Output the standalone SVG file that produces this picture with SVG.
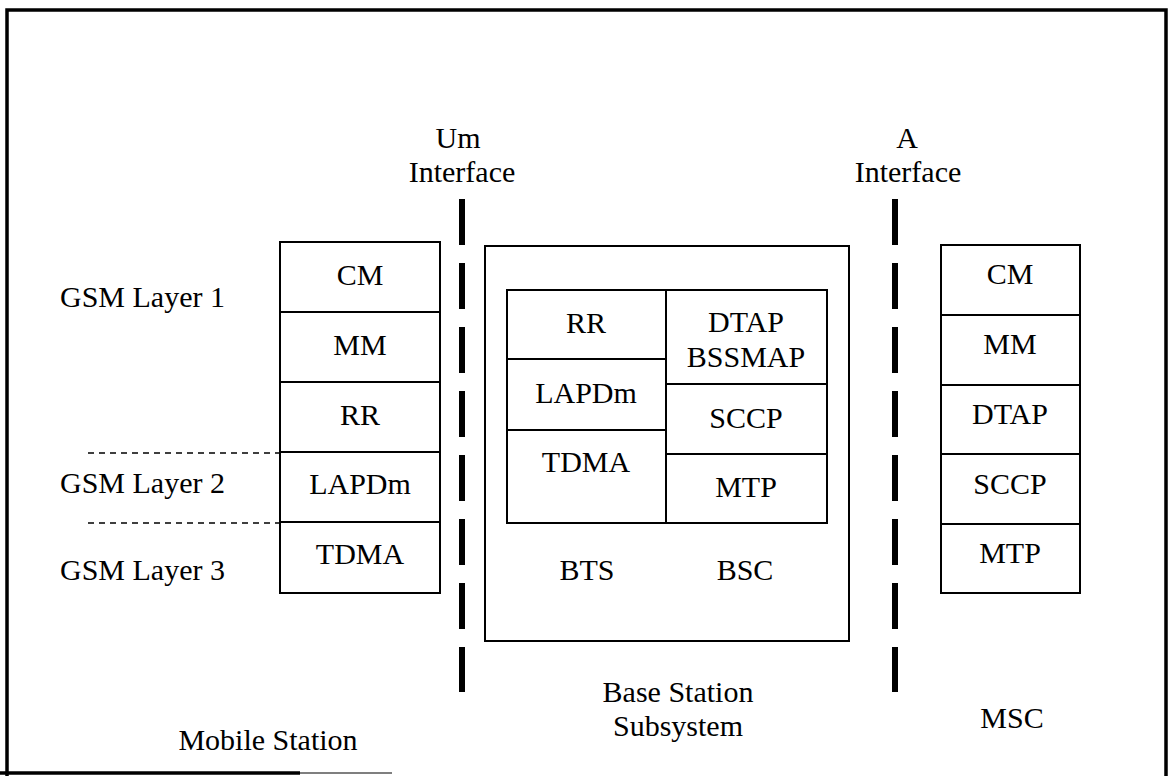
<svg xmlns="http://www.w3.org/2000/svg" width="1168" height="776" viewBox="0 0 1168 776" font-family="'Liberation Serif', 'DejaVu Serif', serif">
<style>
text{font-family:'Liberation Serif','Times New Roman','DejaVu Serif',serif;font-size:30px;fill:#000;text-anchor:middle}
.lbl{text-anchor:start}
.box{fill:none;stroke:#000;stroke-width:2}
.sep{stroke:#000;stroke-width:2}
.iface{stroke:#000;stroke-width:6;stroke-dasharray:46 18}
.layer{stroke:#000;stroke-width:1.5;stroke-dasharray:6 5}
.frame{stroke:#000;stroke-width:3.5;fill:none}
</style>
<rect width="1168" height="776" fill="#fff"/>
<g id="frame">
<path class="frame" d="M7,776 V10 H1166 V776"/>
<path class="frame" d="M0,773 H300"/>
<path d="M300,773 H392" stroke="#555" stroke-width="1.5"/>
</g>
<g id="connectors">
<line class="iface" x1="462" y1="199" x2="462" y2="692"/>
<line class="iface" x1="895" y1="199" x2="895" y2="692"/>
<line class="layer" x1="88" y1="453" x2="280" y2="453"/>
<line class="layer" x1="88" y1="523" x2="280" y2="523"/>
</g>
<g id="um-interface">
<text x="458" y="148">Um</text>
<text x="462" y="182">Interface</text>
</g>
<g id="a-interface">
<text x="907" y="148">A</text>
<text x="908" y="182">Interface</text>
</g>
<g id="layer-labels">
<text class="lbl" x="60" y="307">GSM Layer 1</text>
<text class="lbl" x="60" y="493">GSM Layer 2</text>
<text class="lbl" x="60" y="580">GSM Layer 3</text>
</g>
<g id="mobile-station">
<rect class="box" x="280" y="242" width="160" height="351"/>
<line class="sep" x1="280" y1="312" x2="440" y2="312"/>
<line class="sep" x1="280" y1="382" x2="440" y2="382"/>
<line class="sep" x1="280" y1="452" x2="440" y2="452"/>
<line class="sep" x1="280" y1="522" x2="440" y2="522"/>
<text x="360" y="285">CM</text>
<text x="360" y="355">MM</text>
<text x="360" y="425">RR</text>
<text x="360" y="494">LAPDm</text>
<text x="360" y="564">TDMA</text>
<text x="268" y="750">Mobile Station</text>
</g>
<g id="bss">
<rect class="box" x="485" y="246" width="364" height="395"/>
<rect class="box" x="507" y="290" width="320" height="233"/>
<line class="sep" x1="666" y1="290" x2="666" y2="523"/>
<line class="sep" x1="507" y1="359" x2="666" y2="359"/>
<line class="sep" x1="507" y1="430" x2="666" y2="430"/>
<line class="sep" x1="666" y1="384" x2="827" y2="384"/>
<line class="sep" x1="666" y1="454" x2="827" y2="454"/>
<text x="586" y="333">RR</text>
<text x="586" y="403">LAPDm</text>
<text x="586" y="472">TDMA</text>
<text x="746" y="332">DTAP</text>
<text x="746" y="367">BSSMAP</text>
<text x="746" y="428">SCCP</text>
<text x="746" y="497">MTP</text>
<text x="587" y="580">BTS</text>
<text x="745" y="580">BSC</text>
<text x="678" y="702">Base Station</text>
<text x="678" y="736">Subsystem</text>
</g>
<g id="msc">
<rect class="box" x="941" y="245" width="139" height="348"/>
<line class="sep" x1="941" y1="315" x2="1080" y2="315"/>
<line class="sep" x1="941" y1="385" x2="1080" y2="385"/>
<line class="sep" x1="941" y1="454" x2="1080" y2="454"/>
<line class="sep" x1="941" y1="524" x2="1080" y2="524"/>
<text x="1010" y="284">CM</text>
<text x="1010" y="354">MM</text>
<text x="1010" y="424">DTAP</text>
<text x="1010" y="494">SCCP</text>
<text x="1010" y="563">MTP</text>
<text x="1012" y="728">MSC</text>
</g>
</svg>
